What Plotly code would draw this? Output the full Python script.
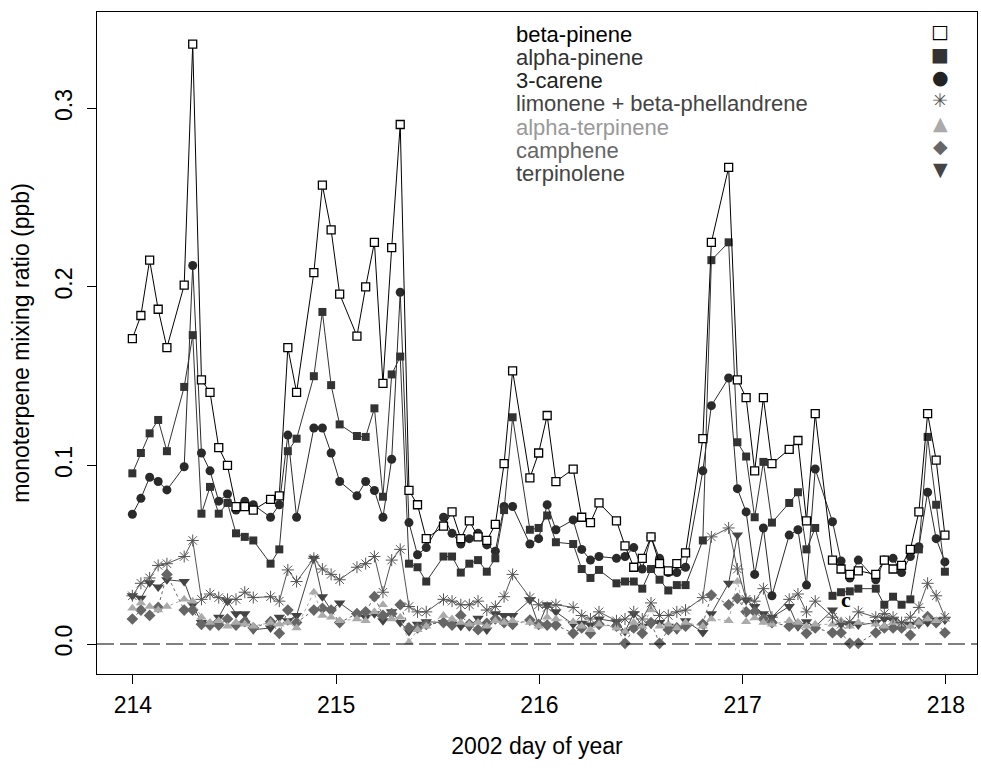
import plotly.graph_objects as go

# sample times (day of year 2002), one per GC sample slot
sample_day = [
    213.997, 214.039, 214.082, 214.124, 214.167, 214.209, 214.252, 214.294, 214.337, 214.379,
    214.422, 214.465, 214.507, 214.550, 214.592, 214.635, 214.677, 214.720, 214.762, 214.805,
    214.847, 214.890, 214.932, 214.975, 215.017, 215.060, 215.102, 215.145, 215.188, 215.230,
    215.273, 215.315, 215.358, 215.400, 215.443, 215.485, 215.528, 215.570, 215.613, 215.655,
    215.698, 215.741, 215.783, 215.826, 215.868, 215.911, 215.953, 215.996, 216.038, 216.081,
    216.123, 216.166, 216.208, 216.251, 216.293, 216.336, 216.379, 216.421, 216.464, 216.506,
    216.549, 216.591, 216.634, 216.676, 216.719, 216.761, 216.804, 216.846, 216.889, 216.931,
    216.974, 217.017, 217.059, 217.102, 217.144, 217.187, 217.229, 217.272, 217.314, 217.357,
    217.399, 217.442, 217.484, 217.527, 217.569, 217.612, 217.655, 217.697, 217.740, 217.782,
    217.825, 217.867, 217.910, 217.952, 217.995,
]

N = None
beta_pinene = [
    0.171, 0.184, 0.215, 0.1875, 0.166, N, 0.201, 0.336, 0.148, 0.141,
    0.110, 0.100, 0.077, 0.077, 0.075, N, 0.081, 0.083, 0.166, 0.141,
    N, 0.208, 0.257, 0.232, 0.196, N, 0.1725, 0.200, 0.225, 0.146,
    0.222, 0.291, 0.086, 0.078, 0.059, N, 0.066, 0.074, 0.059, 0.069,
    0.060, 0.058, 0.067, 0.101, 0.153, N, 0.093, 0.107, 0.128, 0.091,
    N, 0.098, 0.071, 0.068, 0.079, N, 0.069, 0.055, 0.043, 0.048,
    0.060, 0.045, 0.041, 0.045, 0.051, N, 0.115, 0.225, N, 0.267,
    0.148, 0.138, 0.097, 0.138, 0.101, N, 0.109, 0.114, 0.069, 0.129,
    N, 0.047, 0.042, 0.039, 0.041, N, 0.039, 0.047, 0.042, 0.044,
    0.053, 0.074, 0.129, 0.103, 0.061,
]
alpha_pinene = [
    0.0956, 0.107, 0.118, 0.1255, 0.108, N, 0.144, 0.173, 0.073, 0.088,
    0.073, 0.079, 0.062, 0.060, 0.058, N, 0.045, 0.053, 0.108, 0.115,
    N, 0.150, 0.186, 0.145, 0.123, N, 0.1165, 0.116, 0.132, 0.0825,
    0.151, 0.161, 0.045, 0.043, 0.035, N, 0.049, 0.049, 0.040, 0.045,
    0.047, 0.0405, 0.048, 0.075, 0.127, N, 0.064, 0.065, 0.072, 0.057,
    N, 0.056, 0.042, 0.037, 0.0415, N, 0.034, 0.035, 0.035, 0.031,
    0.042, 0.036, 0.030, 0.033, 0.033, N, 0.058, 0.215, N, 0.225,
    0.113, 0.105, 0.071, 0.102, 0.068, N, 0.079, 0.085, 0.053, 0.065,
    N, 0.027, 0.029, 0.0295, 0.031, N, 0.031, 0.022, 0.0265, 0.022,
    0.025, 0.053, 0.116, 0.078, 0.0405,
]
carene_3 = [
    0.0727, 0.0816, 0.0934, 0.091, 0.0863, N, 0.0993, 0.212, 0.107, 0.097,
    0.080, 0.084, 0.075, 0.080, 0.078, N, 0.071, 0.078, 0.117, 0.071,
    N, 0.121, 0.121, 0.107, 0.091, N, 0.083, 0.091, 0.086, 0.071,
    0.1035, 0.197, 0.068, 0.050, 0.054, N, 0.071, 0.062, 0.056, 0.059,
    0.062, 0.0555, 0.052, 0.077, 0.077, N, 0.056, 0.059, 0.078, 0.064,
    N, 0.0695, 0.053, 0.047, 0.049, N, 0.048, 0.049, 0.054, 0.042,
    0.060, 0.048, 0.040, 0.040, 0.043, N, 0.097, 0.1335, N, 0.149,
    0.087, 0.074, 0.039, 0.065, 0.027, N, 0.061, 0.064, 0.033, 0.098,
    N, 0.0685, 0.0465, 0.037, 0.047, N, 0.036, 0.047, 0.048, 0.040,
    0.049, 0.0545, 0.085, 0.059, 0.046,
]
limonene_phellandrene = [
    0.027, 0.034, 0.037, 0.044, 0.045, N, 0.049, 0.058, 0.025, 0.028,
    0.026, 0.025, 0.025, 0.029, 0.026, N, 0.0265, 0.024, 0.0415, 0.035,
    N, 0.048, 0.042, 0.039, 0.036, N, 0.043, 0.045, 0.049, 0.029,
    0.047, 0.053, 0.021, 0.018, 0.018, N, 0.025, 0.024, 0.022, 0.022,
    0.024, 0.019, 0.021, 0.0265, 0.039, N, 0.026, 0.022, 0.0205, 0.022,
    N, 0.0205, 0.016, 0.014, 0.018, N, 0.013, 0.014, 0.018, 0.014,
    0.023, 0.016, 0.016, 0.018, 0.019, N, 0.026, 0.060, N, 0.065,
    0.042, 0.025, 0.024, 0.031, 0.015, N, 0.025, 0.028, 0.018, 0.024,
    N, 0.015, 0.011, 0.0125, 0.018, N, 0.015, 0.017, 0.015, 0.012,
    0.015, 0.0205, 0.034, 0.027, 0.015,
]
alpha_terpinene = [
    0.020, 0.023, 0.021, 0.019, 0.021, N, 0.025, 0.024, 0.015, 0.012,
    0.013, 0.010, 0.012, 0.011, 0.010, N, 0.012, 0.011, 0.012, 0.009,
    N, 0.029, 0.016, 0.015, 0.013, N, 0.014, 0.013, 0.018, 0.022,
    0.014, 0.015, 0.001, 0.008, 0.010, N, 0.016, 0.014, 0.012, 0.011,
    0.012, 0.010, 0.013, 0.012, 0.013, N, 0.012, 0.010, 0.015, 0.014,
    N, 0.0125, 0.010, 0.008, 0.011, N, 0.009, 0.007, 0.012, 0.010,
    0.019, 0.010, 0.011, 0.009, 0.012, N, 0.010, 0.014, N, 0.013,
    0.035, 0.0125, 0.0145, 0.012, 0.011, N, 0.013, 0.012, 0.010, 0.011,
    N, 0.011, 0.013, 0.010, 0.012, N, 0.011, 0.010, 0.012, 0.011,
    0.010, 0.012, 0.014, 0.013, 0.014,
]
camphene = [
    0.014, 0.019, 0.016, 0.0205, 0.039, N, 0.019, 0.019, 0.011, 0.0106,
    0.0106, 0.014, 0.0106, 0.0125, 0.009, N, 0.0125, 0.006, 0.019, 0.012,
    N, 0.019, 0.020, 0.019, 0.012, N, 0.017, 0.018, 0.0265, 0.016,
    0.017, 0.022, 0.009, 0.009, 0.011, N, 0.012, 0.0106, 0.016, 0.011,
    0.008, 0.0116, 0.014, 0.012, 0.011, N, 0.0134, 0.011, 0.0106, 0.0106,
    N, 0.006, 0.009, 0.006, 0.011, N, 0.010, 0.0004, 0.009, 0.006,
    0.012, 0.0004, 0.008, 0.009, 0.010, N, 0.0112, 0.0274, N, 0.022,
    0.0256, 0.018, 0.018, 0.014, 0.012, N, 0.010, 0.011, 0.006, 0.009,
    N, 0.0063, 0.0063, 0.0004, 0.0004, N, 0.0063, 0.009, 0.009, 0.009,
    0.005, 0.012, 0.0153, 0.012, 0.0063,
]
terpinolene = [
    0.027, 0.0256, 0.0343, 0.032, 0.036, N, 0.035, 0.022, 0.012, 0.011,
    0.015, 0.024, 0.017, 0.017, 0.008, N, 0.009, 0.015, 0.013, 0.016,
    N, 0.048, 0.0265, 0.019, 0.023, N, 0.016, 0.015, 0.017, 0.013,
    0.018, 0.012, 0.007, 0.011, 0.0125, N, 0.012, 0.011, 0.010, 0.0097,
    0.0144, 0.0078, 0.017, 0.016, 0.016, N, 0.0246, 0.0106, 0.022, 0.018,
    N, 0.011, 0.0116, 0.0106, 0.014, N, 0.0125, 0.007, 0.017, 0.010,
    0.011, 0.012, 0.010, 0.008, 0.013, N, 0.0065, 0.017, N, 0.034,
    0.061, 0.0246, 0.021, 0.017, 0.015, N, 0.021, 0.0097, 0.0125, 0.0097,
    N, 0.019, 0.011, 0.011, 0.0106, N, 0.012, 0.014, 0.0134, 0.011,
    0.011, 0.011, 0.012, 0.0134, 0.0134,
]

x_ticks = [214, 215, 216, 217, 218]
y_ticks = [0.0, 0.1, 0.2, 0.3]
y_ticktext = ["0.0", "0.1", "0.2", "0.3"]

legend_names = ["beta-pinene", "alpha-pinene", "3-carene", "limonene + beta-phellandrene",
                "alpha-terpinene", "camphene", "terpinolene"]
legend_colors = ["#000000", "#333333", "#222222", "#444444", "#999999", "#666666", "#444444"]
legend_symbols = ["□", "■", "●", "\u2733\ufe0e", "▲", "◆", "▼"]
legend_symbol_colors = ["#000000", "#333333", "#222222", "#555555", "#aaaaaa", "#666666", "#444444"]

FONT = "Liberation Sans"

fig = go.Figure()

# (values, symbol, marker colour, size, line colour, dash)
styles = [
    (terpinolene, "triangle-down", "#444444", 10, "#444444", "solid"),
    (camphene, "diamond", "#666666", 9, "#666666", "dot"),
    (alpha_terpinene, "triangle-up", "#aaaaaa", 9, "#aaaaaa", "dot"),
    (limonene_phellandrene, "asterisk-open", "#555555", 10, "#555555", "solid"),
    (carene_3, "circle", "#2a2a2a", 9, "#2a2a2a", "solid"),
    (alpha_pinene, "square", "#333333", 8, "#333333", "solid"),
]
for vals, sym, col, size, lcol, dash in styles:
    if sym == "asterisk-open":
        marker = dict(symbol=sym, size=size, color=col, line=dict(color=col, width=1))
    else:
        marker = dict(symbol=sym, size=size, color=col, line=dict(width=0))
    fig.add_trace(go.Scatter(x=sample_day, y=vals, mode="lines+markers",
                             connectgaps=True, marker=marker,
                             line=dict(color=lcol, width=1, dash=dash),
                             showlegend=False, hoverinfo="skip"))

fig.add_trace(go.Scatter(x=sample_day, y=beta_pinene, mode="lines+markers", connectgaps=True,
                         marker=dict(symbol="square", size=8, color="white",
                                     line=dict(color="black", width=1.3)),
                         line=dict(color="black", width=1), showlegend=False, hoverinfo="skip"))

fig.add_hline(y=0, line=dict(color="black", width=1, dash="17px,6px"))

# legend as text (symbols on the right, names on the left)
PLOT_L, PLOT_R, PLOT_T, PLOT_B = 97, 977, 12, 674
row_y0 = 35
row_dy = 23
annotations = []
for i, (name, tcol, sym, scol) in enumerate(zip(legend_names, legend_colors, legend_symbols, legend_symbol_colors)):
    ypx = row_y0 + i * row_dy
    annotations.append(dict(x=(514 - PLOT_L) / (PLOT_R - PLOT_L),
                            y=(PLOT_B - ypx) / (PLOT_B - PLOT_T), xref="paper", yref="paper",
                            text=name, showarrow=False, xanchor="left", yanchor="middle",
                            font=dict(family=FONT, size=22, color=tcol)))
    annotations.append(dict(x=(940 - PLOT_L) / (PLOT_R - PLOT_L),
                            y=(PLOT_B - (ypx - 4)) / (PLOT_B - PLOT_T), xref="paper", yref="paper",
                            text=sym, showarrow=False, xanchor="center", yanchor="middle",
                            font=dict(family="DejaVu Sans", size=19, color=scol)))

annotations.append(dict(x=217.51, y=0.025, xref="x", yref="y", text="<b>c</b>", showarrow=False,
                        font=dict(family="Liberation Serif", size=22, color="black")))

fig.update_layout(
    width=981, height=768,
    margin=dict(l=PLOT_L, r=981 - PLOT_R, t=PLOT_T, b=768 - PLOT_B),
    paper_bgcolor="white", plot_bgcolor="white",
    font=dict(family=FONT, size=23, color="black"),
    annotations=annotations,
    xaxis=dict(range=[213.823, 218.153], tickvals=x_ticks, ticks="outside", ticklen=9,
               tickcolor="black", showline=True, linecolor="black", linewidth=1, mirror=True,
               showgrid=False, zeroline=False, automargin=False, ticklabelstandoff=1,
               title=dict(text="2002 day of year", standoff=21, font=dict(size=23)),
               tickfont=dict(size=23)),
    yaxis=dict(range=[-0.0168, 0.354], tickvals=y_ticks, ticktext=y_ticktext, ticks="outside",
               ticklen=9, tickcolor="black", tickangle=-90, showline=True, linecolor="black",
               linewidth=1, mirror=True, showgrid=False, zeroline=False, automargin=False,
               ticklabelstandoff=6,
               title=dict(text="monoterpene mixing ratio (ppb)", standoff=14, font=dict(size=23)),
               tickfont=dict(size=23)),
)

fig.write_html("out.html", config={"displayModeBar": False},
               post_script="document.body.style.margin='0';document.body.style.overflow='hidden';")
